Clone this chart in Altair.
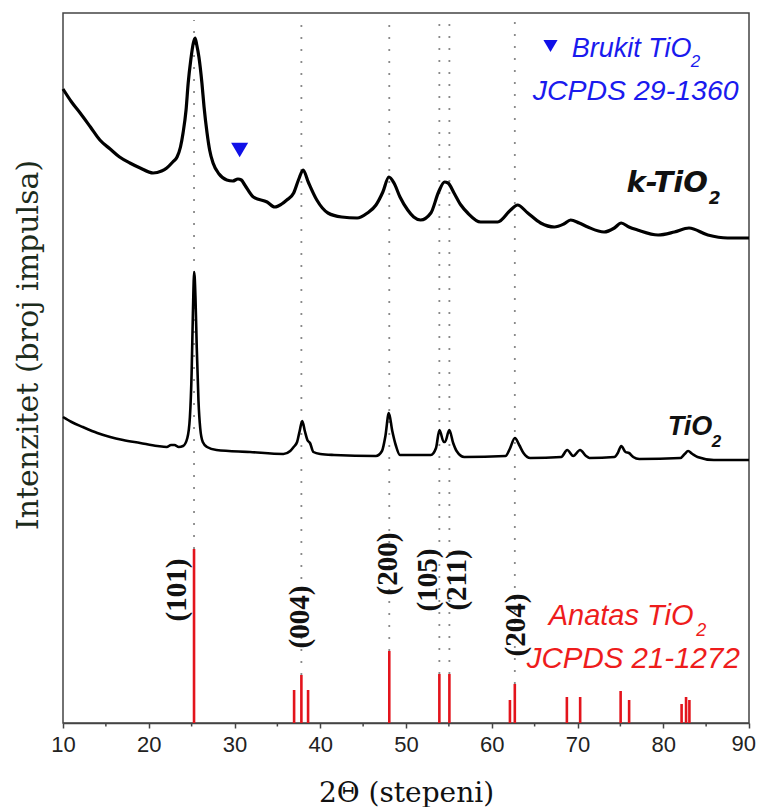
import altair as alt
import pandas as pd

# ---------------- data (2theta in degrees, intensity in arbitrary units) ----------------
k_t = [10.0, 11.0, 12.0, 13.2, 14.3, 15.5, 16.6, 17.8, 19.0, 20.5, 21.5, 22.1, 22.8, 23.3, 23.7,
       24.0, 24.35, 24.6, 24.9, 25.2, 25.4, 25.6, 25.85, 26.2, 26.45, 26.8, 27.1, 27.5, 28.2,
       29.1, 29.8, 30.4, 30.8, 31.2, 32.2, 33.8, 34.7, 35.5, 36.1, 36.9, 37.5, 38.0, 38.6,
       39.6, 40.9, 42.5, 44.3, 45.5, 46.5, 47.3, 48.0, 48.6, 49.3, 50.2, 50.9, 51.7, 52.9,
       53.8, 54.5, 54.9, 55.6, 56.4, 57.2, 58.7, 60.7, 62.2, 63.0, 64.2, 65.7, 67.3, 68.4,
       69.2, 70.2, 71.2, 73.1, 74.3, 75.1, 76.0, 77.0, 79.4, 81.3, 83.0, 85.2, 87.5, 90.0]
k_h = [634, 621, 610, 596, 583, 574, 566, 560, 555, 550, 552, 555, 561, 566, 576,
       590, 613, 640, 663, 680, 685, 678, 666, 640, 616, 590, 573, 560, 549,
       543, 542, 544, 543, 538, 526, 521, 516, 519, 523, 530, 544, 553, 541,
       523, 510, 506, 505, 510, 518, 531, 546, 540, 526, 513, 506, 503, 510,
       531, 541, 540, 530, 518, 510, 501, 501, 513, 518, 510, 500, 496, 499,
       503, 500, 496, 491, 495, 500, 496, 493, 488, 491, 495, 488, 485, 485]

t_t = [10.0, 11.0, 12.3, 14.0, 15.5, 17.0, 19.0, 21.0, 22.1, 22.6, 23.0, 23.5, 24.0, 24.5,
       24.8, 25.0, 25.15, 25.3, 25.45, 25.6, 25.8, 26.0, 26.3, 26.8, 27.9, 31.8, 35.7, 36.5,
       36.9, 37.3, 37.6, 37.9, 38.2, 38.5, 38.8, 39.2, 40.0, 41.6, 46.5, 47.2, 47.6, 48.0,
       48.4, 48.8, 49.3, 52.9, 53.5, 53.9, 54.4, 54.55, 55.05, 55.5, 55.9, 56.8, 61.6, 62.1,
       62.7, 63.2, 63.7, 64.5, 68.1, 68.8, 69.5, 70.3, 71.0, 71.4, 74.3, 74.7, 75.1, 75.6,
       76.0, 76.5, 77.2, 82.0, 82.5, 82.9, 83.4, 84.0, 85.9, 90.0]
t_h = [306, 301, 296, 290, 286, 283, 280, 277, 276, 278, 278, 276, 277, 285,
       306, 350, 410, 451, 425, 375, 322, 295, 281, 276, 273, 271, 269, 272,
       276, 281, 292, 302, 292, 283, 280, 271, 269, 268, 267, 272, 287, 310,
       292, 278, 268, 268, 275, 293, 281, 281, 293, 280, 272, 266, 267, 274,
       285, 278, 270, 265, 266, 273, 267, 273, 267, 265, 266, 270, 277, 271,
       270, 266, 264, 265, 269, 272, 269, 266, 263, 263]

ref_t = [25.28, 36.95, 37.80, 38.58, 48.05, 53.89, 55.06, 62.12, 62.69, 68.76, 70.31,
         75.03, 76.02, 82.14, 82.66, 83.05]
ref_h = [174, 33, 48, 33, 72, 49, 49, 23, 39, 26, 26, 32, 23, 19, 26, 23]

guide_t = [25.28, 37.80, 48.05, 53.89, 55.06, 62.69]
guide_h = [174, 48, 72, 49, 49, 39]

hkl_labels = ["(101)", "(004)", "(200)", "(105)", "(211)", "(204)"]
hkl_t = [23.3, 37.6, 47.9, 52.57, 55.97, 62.77]
hkl_h = [133, 106, 159, 143, 143, 98]

minor_ticks = [15, 25, 35, 45, 55, 65, 75, 85]
major_ticks = [10, 20, 30, 40, 50, 60, 70, 80, 90]
last_tick_label = "90"

# ---------------- encodings ----------------
x_scale = alt.Scale(domain=[10, 90], nice=False, zero=False)
y_scale = alt.Scale(domain=[0, 710], nice=False, zero=False)
x_axis = alt.Axis(values=major_ticks, title="2Θ (stepeni)", grid=False,
                  labelFont="Liberation Sans", labelFontSize=22, labelColor="#222222",
                  labelPadding=6, labelFlush=False, labelOverlap=False,
                  labelExpr="datum.value == 90 ? '' : datum.label",
                  tickSize=5, tickWidth=1.5, tickColor="#444444",
                  domainColor="#444444", domainWidth=1.5,
                  titleFont="DejaVu Serif", titleFontSize=28, titleFontWeight="normal",
                  titleColor="#111111", titleBaseline="alphabetic", titleY=78)
X = alt.X("t:Q", scale=x_scale, axis=x_axis)
Y = alt.Y("h:Q", scale=y_scale, axis=None)

k_df = pd.DataFrame({"t": k_t, "h": k_h})
t_df = pd.DataFrame({"t": t_t, "h": t_h})
ref_df = pd.DataFrame({"t": ref_t, "h": ref_h, "h0": [0] * len(ref_t)})
guide_df = pd.DataFrame({"t": guide_t, "h": guide_h, "htop": [703] * len(guide_t)})
hkl_df = pd.DataFrame({"t": hkl_t, "h": hkl_h, "label": hkl_labels})
minor_df = pd.DataFrame({"t": minor_ticks})

guides = alt.Chart(guide_df).mark_rule(color="#8a8a8a", strokeDash=[2, 10], strokeWidth=1.8).encode(
    x=X, y=Y, y2="htop:Q")
refs = alt.Chart(ref_df).mark_rule(color="#e3141c", strokeWidth=2.6).encode(
    x=X, y=alt.Y("h0:Q", scale=y_scale, axis=None), y2="h:Q")
k_line = alt.Chart(k_df).mark_line(color="#000000", strokeWidth=3.2,
                                   interpolate="monotone").encode(x=X, y=Y)
t_line = alt.Chart(t_df).mark_line(color="#000000", strokeWidth=2.6,
                                   interpolate="monotone").encode(x=X, y=Y)

tri_df = pd.DataFrame({"t": [30.6, 66.85], "h": [573, 677], "s": [290, 200]})
tris = alt.Chart(tri_df).mark_point(shape="triangle-down", filled=True, color="#1010e8",
                                     opacity=1, strokeWidth=0).encode(
    x=X, y=Y, size=alt.Size("s:Q", scale=None, legend=None))

hkl = alt.Chart(hkl_df).mark_text(font="Liberation Serif", fontWeight="bold", fontSize=29,
                                  angle=270, align="center", baseline="middle",
                                  color="#111111").encode(x=X, y=Y, text="label:N")


def label(text, t, h, **kw):
    df = pd.DataFrame({"t": [t], "h": [h], "label": [text]})
    return alt.Chart(df).mark_text(align="left", baseline="alphabetic", **kw).encode(
        x=X, y=Y, text="label:N")


blue = "#1a1aee"
red = "#ee1c1c"
texts = [
    label("k-TiO", 75.70, 531, font="DejaVu Sans", fontWeight="bold", fontStyle="italic",
          fontSize=29, color="#111111"),
    label("2", 85.3, 519, font="DejaVu Sans", fontWeight="bold", fontStyle="italic",
          fontSize=17, color="#111111"),
    label("TiO", 80.52, 288, font="Liberation Sans", fontWeight="bold", fontStyle="italic",
          fontSize=27, color="#111111"),
    label("2", 85.65, 276, font="Liberation Sans", fontWeight="bold", fontStyle="italic",
          fontSize=17, color="#111111"),
    label("Brukit TiO", 69.32, 666, font="Liberation Sans", fontStyle="italic",
          fontSize=27, color=blue),
    label("2", 83.2, 656, font="Liberation Sans", fontStyle="italic", fontSize=17, color=blue),
    label("JCPDS 29-1360", 64.77, 623, font="Liberation Sans", fontStyle="italic",
          fontSize=28.5, color=blue),
    label("Anatas TiO", 66.64, 98, font="Liberation Sans", fontStyle="italic",
          fontSize=29, color=red),
    label("2", 83.85, 87, font="Liberation Sans", fontStyle="italic", fontSize=18, color=red),
    label("JCPDS 21-1272", 64.07, 55, font="Liberation Sans", fontStyle="italic",
          fontSize=29.5, color=red),
]

minor = alt.Chart(minor_df).mark_rule(color="#444444", strokeWidth=1.5).encode(
    x=X, y=alt.value(710), y2=alt.value(713.5))

# last tick label, kept inside the page's right edge
last_lbl = alt.Chart(pd.DataFrame({"a": [0]})).mark_text(
    font="Liberation Sans", fontSize=22, color="#222222", align="right", baseline="top"
).encode(x=alt.value(693), y=alt.value(721), text=alt.value(last_tick_label))

ytitle = alt.Chart(pd.DataFrame({"a": [0]})).mark_text(
    font="DejaVu Serif", fontSize=30, angle=270, align="center", baseline="middle",
    color="#1c2b1c").encode(x=alt.value(-34), y=alt.value(332),
                            text=alt.value("Intenzitet (broj impulsa)"))

chart = alt.layer(guides, refs, k_line, t_line, tris, hkl, *texts, minor, last_lbl,
                  ytitle).properties(
    width=686, height=710,
    autosize=alt.AutoSizeParams(type="none"),
    padding={"left": 55, "top": 5, "right": 7, "bottom": 84},
).configure_view(stroke="#444444", strokeWidth=1.5)

chart.save("out.html", embed_options={"renderer": "svg", "actions": False})
